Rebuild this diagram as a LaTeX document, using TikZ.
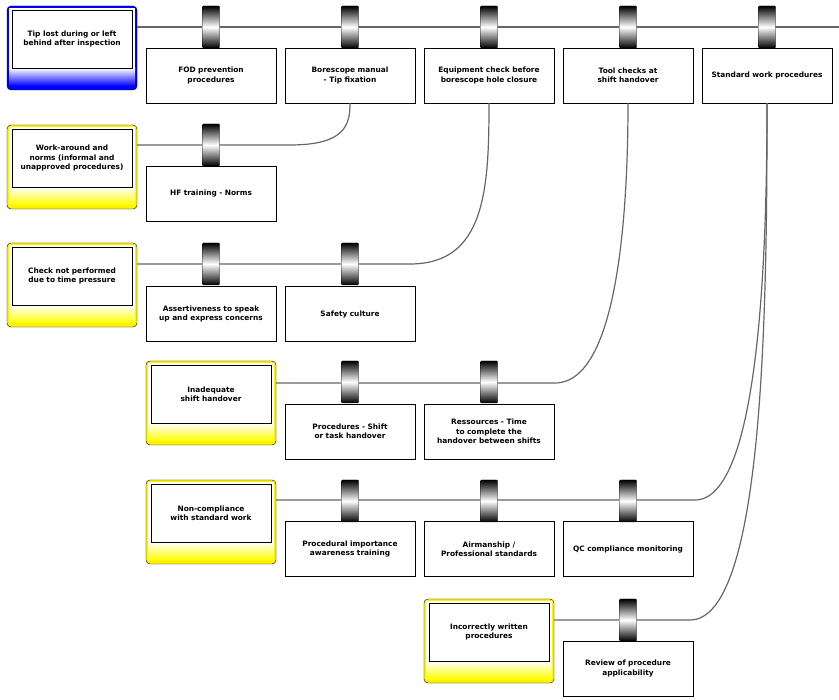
\documentclass[tikz,border=0pt]{standalone}
\usepackage{fontspec}
\setmainfont{DejaVu Sans}
\hyphenpenalty=10000
\exhyphenpenalty=10000
\begin{document}
\begin{tikzpicture}[x=1pt,y=-1pt]
    \tikzset{Barrier/.style={%
            shape=rectangle,%
            draw=black,%
            fill=white,%
            minimum width=130pt,%
            minimum height=55pt,%
            text width=112pt,%
            align=center,%
            inner sep=2pt,%
            font=\fontsize{7.4}{9.4}\selectfont\bfseries,%
        },
        Threat/.style={%
            shape=rectangle,%
            draw=black,%
            fill=white,%
            minimum width=120pt,%
            minimum height=58pt,%
            text width=106pt,%
            align=center,%
            inner sep=2pt,%
            font=\fontsize{7.4}{9.4}\selectfont\bfseries,%
        },
        Gate/.style={draw=black,rounded corners=1pt,top color=black,bottom color=black,middle color=white},
        Line/.style={draw=black!60,line width=1.2pt},
    }
    \newcommand{\threatframe}[3]{%
        \fill[#3,rounded corners=4pt] (#1,#2) rectangle (#1+130,#2+84);
        \fill[white] (#1+2,#2+2) rectangle (#1+128,#2+62);
        \shade[top color=white,bottom color=#3] (#1+2,#2+62) rectangle (#1+128,#2+80);
        \draw[rounded corners=4pt] (#1,#2) rectangle (#1+130,#2+84);
    }
    \useasboundingbox (0,0) rectangle (839,700);

    % threats
    \threatframe{7}{6}{blue}
    \node[Threat] (tip) at (72,39) {Tip lost during or left behind after inspection};
    \threatframe{7}{125}{yellow}
    \node[Threat] (work) at (72,158) {Work-around and norms (informal and unapproved procedures)};
    \threatframe{7}{243}{yellow}
    \node[Threat] (check) at (72,276) {Check not performed due to time pressure};
    \threatframe{146}{361}{yellow}
    \node[Threat] (shift) at (211,394) {Inadequate shift handover};
    \threatframe{146}{480}{yellow}
    \node[Threat] (comp) at (211,513) {Non-compliance with standard work};
    \threatframe{424}{599}{yellow}
    \node[Threat] (write) at (489,632) {Incorrectly written procedures};

    % lines
    \coordinate (end) at (839,27);
    \draw[Line] (137,27) -- (end);
    \node[Barrier] (fod) at (211,75.5) {FOD prevention procedures};
    \node[Barrier] (bore) at (350,75.5) {Borescope manual - Tip fixation};
    \node[Barrier] (equip) at (489,75.5) {Equipment check before borescope hole closure};
    \node[Barrier] (tool) at (628,75.5) {Tool checks at shift handover};
    \node[Barrier] (std) at (767,75.5) {Standard work procedures};
    \node[Barrier] (hf) at (211,193.5) {HF training - Norms};
    \node[Barrier] (assert) at (211,314) {Assertiveness to speak up and express concerns};
    \node[Barrier] (safety) at (350,314) {Safety culture};
    \node[Barrier] (proc) at (350,431.5) {Procedures - Shift or task handover};
    \node[Barrier] (res) at (489,431.5) {Ressources - Time to complete the handover between shifts};
    \node[Barrier] (aware) at (350,549) {Procedural importance awareness training};
    \node[Barrier] (air) at (489,549) {Airmanship / Professional standards};
    \node[Barrier] (qc) at (628,549) {QC compliance monitoring};
    \node[Barrier] (rev) at (628,668.5) {Review of procedure applicability};

    \draw[Line] (137,145) -- (290,145) .. controls (345,145) and (350,125) .. (bore.south);
    \draw[Line] (137,264) -- (410,264) .. controls (485,264) and (489,190) .. (equip.south);
    \draw[Line] (276,383) -- (555,383) .. controls (620,383) and (628,200) .. (tool.south);
    \draw[Line] (276,500) -- (695,500) .. controls (760,500) and (767,250) .. (std.south);
    \draw[Line] (554,620) -- (690,620) .. controls (765,620) and (767,300) .. (std.south);

    % gates
    \foreach \x/\y in {211/6,350/6,489/6,628/6,767/6,211/124,211/243,350/243,350/361,489/361,
                       350/480,489/480,628/480,628/599}
        \draw[Gate] (\x-8.5,\y) rectangle (\x+8.5,\y+42);
\end{tikzpicture}
\end{document}
